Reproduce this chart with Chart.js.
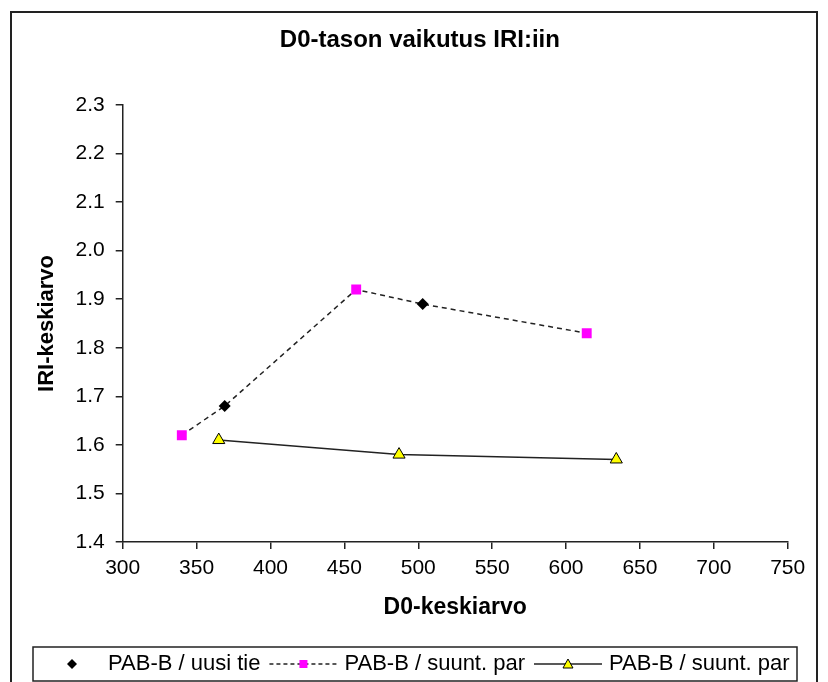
<!DOCTYPE html>
<html>
<head>
<meta charset="utf-8">
<script src="https://cdn.jsdelivr.net/npm/chart.js@4.4.1/dist/chart.umd.min.js"></script>
<style>
  html, body { margin: 0; padding: 0; background: #fff; }
  #wrap { position: relative; width: 828px; height: 682px; }
</style>
</head>
<body>
<div id="wrap"><canvas id="chart" width="828" height="682"></canvas></div>
<script>
// data
var uusiX = [369, 503];
var uusiY = [1.68, 1.89];
var suuntX = [340, 458, 614];
var suuntY = [1.62, 1.92, 1.83];
var suunt2X = [365, 487, 634];
var suunt2Y = [1.61, 1.58, 1.57];
var seriesNames = ["PAB-B / uusi tie", "PAB-B / suunt. par", "PAB-B / suunt. par"];
var xTicks = [300, 350, 400, 450, 500, 550, 600, 650, 700, 750];
var yTicks = [1.4, 1.5, 1.6, 1.7, 1.8, 1.9, 2.0, 2.1, 2.2, 2.3];

var FONT = "'Liberation Sans', Arial, sans-serif";

function toPoints(xs, ys) {
    return xs.map(function (x, i) {
        return { x: x, y: ys[i] };
    });
}

// the dashed line runs through the diamonds and the squares in x order
var dashedLine = toPoints(uusiX, uusiY).concat(toPoints(suuntX, suuntY))
    .sort(function (a, b) { return a.x - b.x; });

function drawSymbol(ctx, kind, cx, cy) {
    ctx.save();
    if (kind === 0) {
        ctx.fillStyle = "#000";
        ctx.beginPath();
        ctx.moveTo(cx, cy - 5);
        ctx.lineTo(cx + 5, cy);
        ctx.lineTo(cx, cy + 5);
        ctx.lineTo(cx - 5, cy);
        ctx.closePath();
        ctx.fill();
    } else if (kind === 1) {
        ctx.strokeStyle = "#222";
        ctx.lineWidth = 1.5;
        ctx.setLineDash([4, 3]);
        ctx.beginPath();
        ctx.moveTo(cx - 34, cy);
        ctx.lineTo(cx + 34, cy);
        ctx.stroke();
        ctx.fillStyle = "#FF00FF";
        ctx.fillRect(cx - 4, cy - 4, 8, 8);
    } else {
        ctx.strokeStyle = "#222";
        ctx.lineWidth = 1.5;
        ctx.beginPath();
        ctx.moveTo(cx - 34, cy);
        ctx.lineTo(cx + 34, cy);
        ctx.stroke();
        ctx.fillStyle = "#FFFF00";
        ctx.strokeStyle = "#000";
        ctx.lineWidth = 1;
        ctx.beginPath();
        ctx.moveTo(cx, cy - 5);
        ctx.lineTo(cx + 5, cy + 4);
        ctx.lineTo(cx - 5, cy + 4);
        ctx.closePath();
        ctx.fill();
        ctx.stroke();
    }
    ctx.restore();
}

// frame round the chart and the boxed legend at the bottom
var framePlugin = {
    id: "framePlugin",
    afterDraw: function (chart) {
        var ctx = chart.ctx;
        ctx.save();
        ctx.strokeStyle = "#222";
        ctx.lineWidth = 2;
        ctx.strokeRect(11, 12, 806, 700);

        ctx.lineWidth = 1.5;
        ctx.strokeRect(33, 647, 764, 34);

        ctx.font = "22px " + FONT;
        ctx.fillStyle = "#000";
        ctx.textBaseline = "middle";
        var symW = [40, 70, 70];
        var symGap = [16, 6, 6];
        var itemGap = 8;
        var x = 52;
        var cy = 664;
        for (var j = 0; j < 3; j++) {
            drawSymbol(ctx, j, x + symW[j] / 2, cy);
            x += symW[j] + symGap[j];
            ctx.fillText(seriesNames[j], x, cy);
            x += ctx.measureText(seriesNames[j]).width + itemGap;
        }
        ctx.restore();
    },
};

new Chart(document.getElementById("chart"), {
    type: "scatter",
    data: {
        datasets: [
            {
                label: seriesNames[0],
                data: toPoints(uusiX, uusiY),
                showLine: false,
                pointStyle: "rectRot",
                pointRadius: 6,
                backgroundColor: "#000",
                borderColor: "#000",
                borderWidth: 0,
            },
            {
                label: seriesNames[1],
                data: toPoints(suuntX, suuntY),
                showLine: false,
                pointStyle: "rect",
                pointRadius: 7,
                backgroundColor: "#FF00FF",
                borderColor: "#FF00FF",
                borderWidth: 0,
            },
            {
                label: seriesNames[2],
                data: toPoints(suunt2X, suunt2Y),
                showLine: true,
                borderColor: "#222",
                borderWidth: 1.5,
                pointStyle: "triangle",
                pointRadius: 7,
                pointBackgroundColor: "#FFFF00",
                pointBorderColor: "#000",
                pointBorderWidth: 1,
            },
            {
                label: "line",
                data: dashedLine,
                showLine: true,
                borderColor: "#222",
                borderWidth: 1.5,
                borderDash: [5, 4],
                pointRadius: 0,
            },
        ],
    },
    options: {
        responsive: false,
        animation: false,
        events: [],
        layout: { padding: { top: 0, left: 52, right: 40.3, bottom: 0 } },
        plugins: {
            legend: { display: false },
            tooltip: { enabled: false },
            title: {
                display: true,
                text: "D0-tason vaikutus IRI:iin",
                color: "#000",
                font: { family: FONT, size: 24, weight: "bold" },
                padding: { top: 26, bottom: 50.2 },
            },
        },
        scales: {
            x: {
                type: "linear",
                min: 300,
                max: 750,
                afterBuildTicks: function (s) {
                    s.ticks = xTicks.map(function (v) { return { value: v }; });
                },
                afterFit: function (s) { s.height = 140; },
                grid: { drawOnChartArea: false, drawTicks: true, tickLength: 7, color: "#222", lineWidth: 1.5 },
                border: { display: true, color: "#222", width: 1.5 },
                ticks: { color: "#000", padding: 7, maxRotation: 0, font: { family: FONT, size: 21 } },
                title: {
                    display: true,
                    text: "D0-keskiarvo",
                    color: "#000",
                    font: { family: FONT, size: 23, weight: "bold" },
                    padding: { top: 0, bottom: 61 },
                },
            },
            y: {
                type: "linear",
                min: 1.4,
                max: 2.3,
                afterBuildTicks: function (s) {
                    s.ticks = yTicks.map(function (v) { return { value: v }; });
                },
                afterFit: function (s) { s.width = 70.7; },
                grid: { drawOnChartArea: false, drawTicks: true, tickLength: 7, color: "#222", lineWidth: 1.5 },
                border: { display: true, color: "#222", width: 1.5 },
                ticks: {
                    color: "#000",
                    padding: 11,
                    font: { family: FONT, size: 21 },
                    callback: function (v) { return Number(v).toFixed(1); },
                },
                title: {
                    display: true,
                    text: "IRI-keskiarvo",
                    color: "#000",
                    font: { family: FONT, size: 22, weight: "bold" },
                    padding: { top: -18.2, bottom: 0 },
                },
            },
        },
    },
    plugins: [framePlugin],
});
</script>
</body>
</html>
